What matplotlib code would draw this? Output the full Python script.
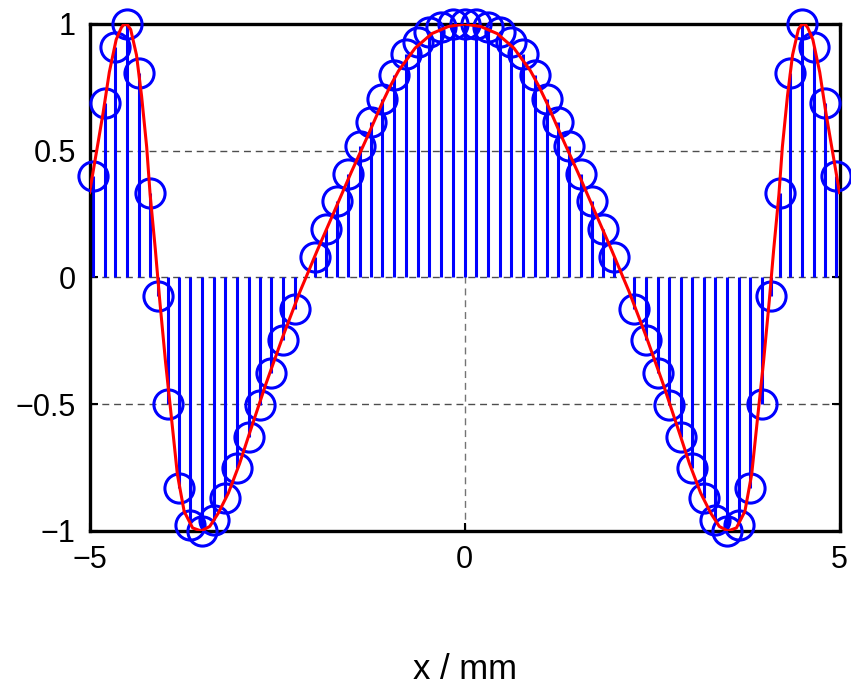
import numpy as np
import matplotlib
matplotlib.use('Agg')
import matplotlib.pyplot as plt

plt.rcParams['font.family'] = ['Liberation Sans', 'DejaVu Sans']

# right half only (the chart is mirror symmetric about x = 0)
x_samp_half = [0.0, 0.155, 0.315, 0.47, 0.625, 0.78, 0.935, 1.095, 1.25, 1.395,
               1.55, 1.70, 1.85, 1.995, 2.265, 2.42, 2.575, 2.725, 2.88, 3.035,
               3.19, 3.345, 3.50, 3.655, 3.81, 3.96, 4.085, 4.20, 4.34, 4.50,
               4.655, 4.80, 4.955]
y_samp_half = [1.0, 0.998, 0.988, 0.967, 0.93, 0.88, 0.80, 0.703, 0.615, 0.518,
               0.41, 0.303, 0.19, 0.08, -0.123, -0.245, -0.378, -0.505, -0.63, -0.75,
               -0.87, -0.955, -1.0, -0.975, -0.83, -0.50, -0.075, 0.335, 0.805, 1.0,
               0.91, 0.69, 0.40]

x_curve_half = [0.0, 0.215, 0.436, 0.658, 0.88, 0.99, 1.10, 1.285, 1.512, 1.739,
                1.966, 2.079, 2.193, 2.42, 2.647, 2.874, 3.0, 3.148, 3.284, 3.397,
                3.511, 3.625, 3.738, 3.829, 3.91, 3.987, 4.064, 4.123, 4.192, 4.238,
                4.306, 4.374, 4.451, 4.49, 4.519, 4.55, 4.577, 4.645, 4.736, 4.819,
                4.896, 5.0]
y_curve_half = [1.0, 0.99, 0.962, 0.905, 0.815, 0.755, 0.687, 0.562, 0.414, 0.259,
                0.105, 0.025, -0.055, -0.231, -0.419, -0.621, -0.735, -0.85, -0.93, -0.982,
                -1.0, -0.988, -0.923, -0.776, -0.547, -0.332, -0.09, 0.112, 0.327, 0.515,
                0.716, 0.878, 0.978, 0.995, 1.0, 0.996, 0.985, 0.938, 0.81, 0.649,
                0.515, 0.335]

def mirror(xh, yh):
    xh = np.asarray(xh)
    yh = np.asarray(yh)
    return np.concatenate([-xh[:0:-1], xh]), np.concatenate([yh[:0:-1], yh])

x_samp, y_samp = mirror(x_samp_half, y_samp_half)
x_curve, y_curve = mirror(x_curve_half, y_curve_half)

fig = plt.figure(figsize=(8.51, 6.87), dpi=100)
ax = fig.add_axes([0.1052, 0.2271, 0.8813, 0.7380])

dash = (0, (5, 3.5))
for yv in [-0.5, 0, 0.5]:
    ax.axhline(yv, color='0.3', lw=1.0, ls=dash, zorder=1)
ax.axvline(0, color='0.45', lw=1.0, ls=dash, zorder=1)

ax.vlines(x_samp, 0, y_samp, colors='b', lw=2.2, zorder=2)
ax.plot(x_samp, y_samp, 'o', ms=21, mfc='none', mec='b', mew=2.2,
        clip_on=False, zorder=3)
ax.plot(x_curve, y_curve, color='r', lw=2.2, zorder=4)

ax.set_xlim(-5, 5)
ax.set_ylim(-1, 1)
ax.set_xticks([-5, 0, 5])
ax.set_xticklabels(['\u22125', '0', '5'])
ax.set_yticks([-1, -0.5, 0, 0.5, 1])
ax.set_yticklabels(['\u22121', '\u22120.5', '0', '0.5', '1'])
ax.tick_params(direction='in', length=6, width=1.5, top=True, right=True,
               labelsize=22, pad=10)
for s in ax.spines.values():
    s.set_linewidth(2.4)

ax.set_xlabel('x / mm', fontsize=25, labelpad=56)

fig.savefig('out.png', dpi=100)
